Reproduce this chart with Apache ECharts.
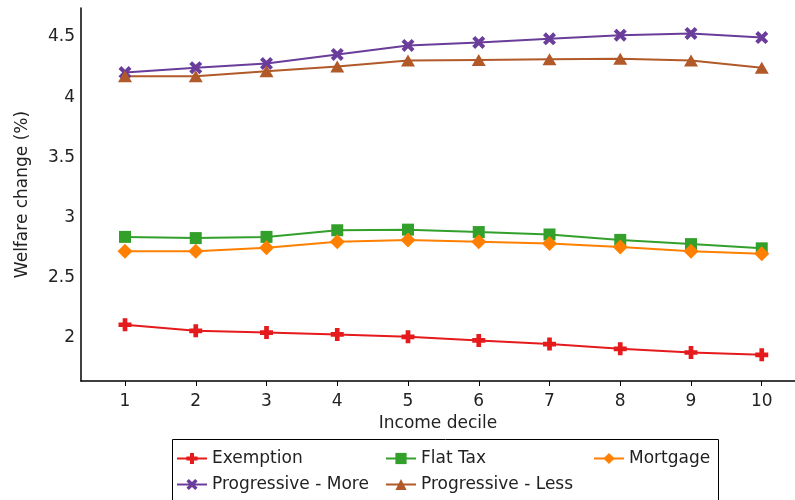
<!DOCTYPE html>
<html>
<head>
<meta charset="utf-8">
<script src="https://cdn.jsdelivr.net/npm/echarts@6/dist/echarts.min.js"></script>
<style>html,body{margin:0;padding:0;background:#fff}#c{width:795px;height:500px}</style>
</head>
<body>
<div id="c"></div>
<script>
const deciles = [1, 2, 3, 4, 5, 6, 7, 8, 9, 10];
const yTicks = [2, 2.5, 3, 3.5, 4, 4.5];
const exemption = [2.11, 2.06, 2.045, 2.03, 2.01, 1.98, 1.95, 1.91, 1.88, 1.86];
const flatTax = [2.84, 2.83, 2.84, 2.895, 2.90, 2.88, 2.86, 2.815, 2.78, 2.745];
const mortgage = [2.72, 2.72, 2.75, 2.80, 2.815, 2.80, 2.785, 2.755, 2.72, 2.70];
const progMore = [4.205, 4.245, 4.28, 4.355, 4.43, 4.455, 4.485, 4.515, 4.53, 4.495];
const progLess = [4.175, 4.175, 4.215, 4.255, 4.305, 4.31, 4.315, 4.32, 4.305, 4.245];

const FONT = 'DejaVu Sans';
const FS = 17;
const TXT = '#222';
const plusPath = 'path://M3.2,0H6.8V3.2H10V6.8H6.8V10H3.2V6.8H0V3.2H3.2Z';
const xPath = 'path://M0,2.2L2.2,0L5,2.8L7.8,0L10,2.2L7.2,5L10,7.8L7.8,10L5,7.2L2.2,10L0,7.8L2.8,5Z';

function mk(name, vals, color, symbol, size) {
  return {
    name: name, type: 'line',
    data: deciles.map((d, i) => [d, vals[i]]),
    symbol: symbol, symbolSize: size, showSymbol: true,
    lineStyle: { color: color, width: 2 },
    itemStyle: { color: color },
    emphasis: { disabled: true },
    animation: false
  };
}

const chart = echarts.init(document.getElementById('c'), null, { renderer: 'canvas' });
const legendCommon = {
  orient: 'vertical', itemWidth: 30, itemHeight: 14, itemGap: 9, padding: 0,
  textStyle: { fontFamily: FONT, fontSize: FS, color: TXT },
  top: 450
};
chart.setOption({
  backgroundColor: '#fff',
  animation: false,
  grid: { left: 81, right: 0, top: 8, bottom: 119, containLabel: false },
  xAxis: {
    type: 'value', min: 0.378, max: 10.47,
    name: 'Income decile', nameLocation: 'middle', nameGap: 33,
    nameTextStyle: { fontFamily: FONT, fontSize: FS, color: TXT },
    axisLine: { show: true, lineStyle: { color: '#000', width: 1.5 } },
    axisTick: { show: true, length: 5, customValues: deciles, lineStyle: { color: '#000' } },
    axisLabel: { customValues: deciles, margin: 12, fontFamily: FONT, fontSize: FS, color: TXT },
    splitLine: { show: false }
  },
  yAxis: {
    type: 'value', min: 1.643, max: 4.741,
    name: 'Welfare change (%)', nameLocation: 'middle', nameGap: 50, nameRotate: 90,
    nameTextStyle: { fontFamily: FONT, fontSize: FS, color: TXT },
    axisLine: { show: true, lineStyle: { color: '#000', width: 1.5 } },
    axisTick: { show: false },
    axisLabel: { customValues: yTicks, margin: 6, fontFamily: FONT, fontSize: FS, color: TXT },
    splitLine: { show: false }
  },
  legend: [
    Object.assign({}, legendCommon, { left: 176, data: ['Exemption', 'Progressive - More'] }),
    Object.assign({}, legendCommon, { left: 385, data: ['Flat Tax', 'Progressive - Less'] }),
    Object.assign({}, legendCommon, { left: 593, data: ['Mortgage'] })
  ],
  graphic: [{
    type: 'rect', left: 170, top: 437,
    shape: { width: 546, height: 80 },
    style: { fill: 'none', stroke: '#000', lineWidth: 1 }, silent: true
  }],
  series: [
    mk('Exemption', exemption, '#e41a1c', plusPath, 13),
    mk('Flat Tax', flatTax, '#33a02c', 'rect', 12),
    mk('Mortgage', mortgage, '#ff7f00', 'diamond', 15),
    mk('Progressive - More', progMore, '#6a3d9a', xPath, 13),
    mk('Progressive - Less', progLess, '#b15928', 'triangle', [14, 12])
  ]
});
</script>
</body>
</html>
